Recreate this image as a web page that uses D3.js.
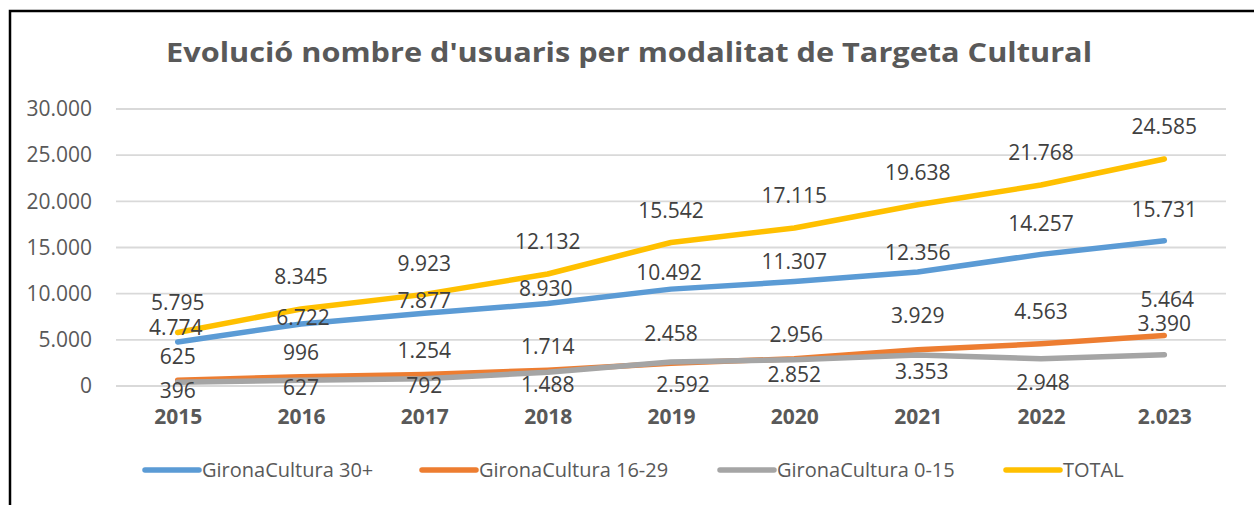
<!DOCTYPE html>
<html>
<head>
<meta charset="utf-8">
<script src="https://cdn.jsdelivr.net/npm/d3@7/dist/d3.min.js"></script>
<style>
  html, body { margin: 0; padding: 0; background: #fff; }
  svg { display: block; font-family: "Open Sans", "Noto Sans", sans-serif; }
</style>
</head>
<body>
<div id="chart"></div>
<script>
// data
const years = ["2015", "2016", "2017", "2018", "2019", "2020", "2021", "2022", "2.023"];
const seriesNames = ["GironaCultura 30+", "GironaCultura 16-29", "GironaCultura 0-15", "TOTAL"];
const adult = [4774, 6722, 7877, 8930, 10492, 11307, 12356, 14257, 15731];
const young = [625, 996, 1254, 1714, 2458, 2956, 3929, 4563, 5464];
const kids = [396, 627, 792, 1488, 2592, 2852, 3353, 2948, 3390];
const total = [5795, 8345, 9923, 12132, 15542, 17115, 19638, 21768, 24585];
const yTicks = [0, 5000, 10000, 15000, 20000, 25000, 30000];

// label placement (offset from the point, px)
const labelDy = [
    [-14, -6, -13, -15, -16, -20, -19, -31, -31],
    [-24, -24, -24, -24, -30, -24, -34, -32, -36],
    [8, 7, 7, 12, 23, 15, 17, 24, -31],
    [-30, -32, -31, -32, -32, -32, -32, -32, -32]
];
const labelDx = [
    [-2, 2, 0, -2, -2, 0, 0, 0, 0],
    [0, 0, 0, 0, 0, 2, 0, 0, 3],
    [0, 0, 0, 0, 12, 0, 4, 2, 0],
    [0, 0, 0, 0, 0, 0, 0, 0, 0]
];
const colors = ["#5B9BD5", "#ED7D31", "#A5A5A5", "#FFC000"];

const W = 1254, H = 505;
const fmt = v => d3.format(",")(v).replace(/,/g, ".");

const svg = d3.select("#chart").append("svg")
    .attr("width", W)
    .attr("height", H);

// frame (only top and left visible in the crop)
svg.append("path")
    .attr("d", "M10,505 L10,11 L1254,11")
    .attr("fill", "none")
    .attr("stroke", "#000")
    .attr("stroke-width", 2.5);

// title
svg.append("text")
    .attr("x", 629)
    .attr("y", 62)
    .attr("text-anchor", "middle")
    .attr("font-family", "'Open Sans', sans-serif")
    .attr("font-size", "26px")
    .attr("font-weight", "bold")
    .attr("fill", "#595959")
    .attr("textLength", 926)
    .attr("lengthAdjust", "spacingAndGlyphs")
    .text("Evolució nombre d'usuaris per modalitat de Targeta Cultural");

const x = d3.scalePoint()
    .domain(years)
    .range([116, 1226])
    .padding(0.5);

const y = d3.scaleLinear()
    .domain([0, 30000])
    .range([386, 109]);

// grid
svg.append("g")
    .selectAll("line")
    .data(yTicks)
    .join("line")
    .attr("x1", 116)
    .attr("x2", 1226)
    .attr("y1", d => y(d))
    .attr("y2", d => y(d))
    .attr("stroke", "#D9D9D9")
    .attr("stroke-width", 1.8);

// y axis labels
const yAxis = svg.append("g")
    .attr("transform", "translate(92,0)")
    .call(d3.axisLeft(y).tickValues(yTicks).tickSize(0).tickPadding(0).tickFormat(fmt));
yAxis.select(".domain").remove();
yAxis.selectAll("text")
    .attr("font-family", "Open Sans, sans-serif")
    .attr("font-size", "21px")
    .attr("fill", "#595959");

// x axis labels
const xAxis = svg.append("g")
    .attr("transform", "translate(0,409)")
    .call(d3.axisBottom(x).tickSize(0).tickPadding(0));
xAxis.select(".domain").remove();
xAxis.selectAll("text")
    .attr("font-family", "Open Sans, sans-serif")
    .attr("font-size", "21px")
    .attr("font-weight", "bold")
    .attr("fill", "#595959");

const series = [adult, young, kids, total];

const line = d3.line()
    .x((d, i) => x(years[i]))
    .y(d => y(d));

// lines
svg.append("g")
    .selectAll("path")
    .data(series)
    .join("path")
    .attr("d", d => line(d))
    .attr("fill", "none")
    .attr("stroke", (d, i) => colors[i])
    .attr("stroke-width", 5.5)
    .attr("stroke-linecap", "round")
    .attr("stroke-linejoin", "round");

// data labels
series.forEach((vals, s) => {
    svg.append("g")
        .selectAll("text")
        .data(vals)
        .join("text")
        .attr("x", (d, i) => x(years[i]) + labelDx[s][i])
        .attr("y", (d, i) => y(d) + labelDy[s][i])
        .attr("dy", "0.35em")
        .attr("text-anchor", "middle")
        .attr("font-size", "21px")
        .attr("fill", "#404040")
        .text(d => fmt(d));
});

// legend
const legendX = [145, 422, 720, 1006];
const legend = svg.append("g")
    .selectAll("g")
    .data(seriesNames)
    .join("g")
    .attr("transform", (d, i) => `translate(${legendX[i]},470)`);

legend.append("line")
    .attr("x1", 0)
    .attr("x2", 54)
    .attr("stroke", (d, i) => colors[i])
    .attr("stroke-width", 5.5)
    .attr("stroke-linecap", "round");

legend.append("text")
    .attr("x", 57)
    .attr("dy", "0.35em")
    .attr("font-size", "20px")
    .attr("fill", "#595959")
    .text(d => d);
</script>
</body>
</html>
